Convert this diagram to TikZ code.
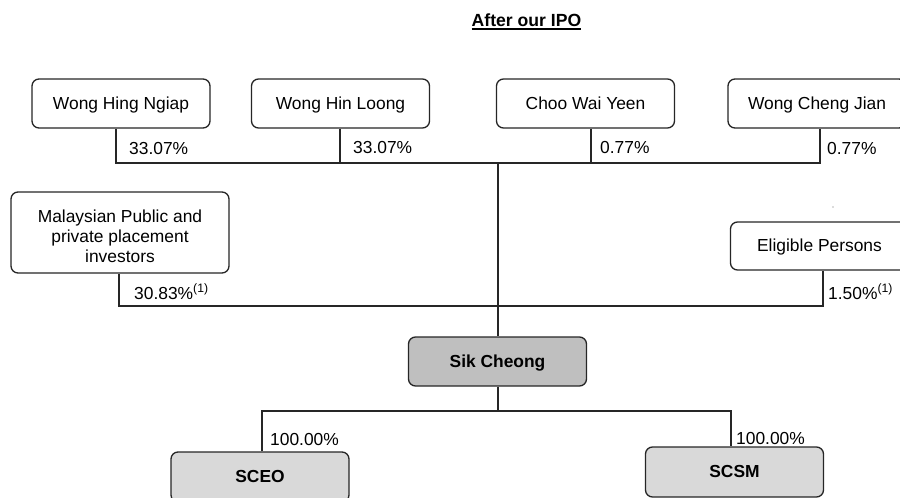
\documentclass[tikz,border=0pt]{standalone}
\usepackage{fontspec}
\setmainfont{Liberation Sans}
\usetikzlibrary{calc}
\begin{document}
\begin{tikzpicture}[x=1pt,y=-1pt,
  txt/.style={font=\fontsize{17.4}{20}\selectfont},
  box/.style={txt, draw=black!85, line width=1.3pt, rounded corners=7pt, fill=white,
    align=center, inner sep=0pt, minimum width=178pt, minimum height=49pt,
    text height=12.6pt, text depth=1pt},
  darkbox/.style={box, fill=black!25, font=\fontsize{17.4}{20}\selectfont\bfseries},
  lightbox/.style={box, fill=black!15, font=\fontsize{17.4}{20}\selectfont\bfseries},
  pct/.style={txt, anchor=base west, inner sep=0pt},
  link/.style={draw=black!85, line width=1.3pt}
]
\useasboundingbox (0,0) rectangle (900,498);

% title
\node[font=\fontsize{17.6}{20}\selectfont\bfseries, anchor=base, inner sep=0pt] (title) at (526.5,26) {After our IPO};
\draw[line width=1.8pt] ($(title.base west)+(0,2.6)$) -- ($(title.base east)+(0,2.6)$);

% shareholders
\node[box] (whn) at (121,103.5) {Wong Hing Ngiap};
\node[box] (whl) at (340.5,103.5) {Wong Hin Loong};
\node[box] (cwy) at (585.5,103.5) {Choo Wai Yeen};
\node[box] (wcj) at (817,103.5) {Wong Cheng Jian};
\node[box, minimum width=218pt, minimum height=81pt, text height=59pt, text depth=0pt] (mpp) at (120,232.5) {Malaysian Public and\\private placement\\investors};
\node[box, minimum height=48pt] (ep) at (819.5,246) {Eligible Persons};

% company and subsidiaries
\node[darkbox, minimum height=49pt] (sik) at (497.5,361.5) {Sik Cheong};
\node[lightbox, minimum height=50pt] (sceo) at (260,477) {SCEO};
\node[lightbox, minimum height=50pt] (scsm) at (734.5,472) {SCSM};

% junction coordinates
\coordinate (j1) at (116,163);
\coordinate (j2) at (340,163);
\coordinate (j3) at (591,163);
\coordinate (j4) at (820,163);
\coordinate (jc) at (498,163);
\coordinate (m1) at (119,306);
\coordinate (m2) at (823,306);
\coordinate (b0) at (498,411);
\coordinate (b1) at (262,411);
\coordinate (b2) at (731,411);

% top bus
\draw[link] (j1 |- whn.south) -- (j1) -- (j4) -- (j4 |- wcj.south);
\draw[link] (j2 |- whl.south) -- (j2);
\draw[link] (j3 |- cwy.south) -- (j3);
% middle bus
\draw[link] (m1 |- mpp.south) -- (m1) -- (m2) -- (m2 |- ep.south);
% trunk to Sik Cheong
\draw[link] (jc) -- (jc |- sik.north);
% bottom bus
\draw[link] (b0 |- sik.south) -- (b0);
\draw[link] (b1 |- sceo.north) -- (b1) -- (b2) -- (b2 |- scsm.north);

% percentages
\node[pct] (p1) at (129,154) {33.07\%};
\node[pct] (p2) at (353,153) {33.07\%};
\node[pct] (p3) at (600,153) {0.77\%};
\node[pct] (p4) at (827,154) {0.77\%};
\node[pct] (p5) at (134,299) {30.83\%\textsuperscript{(1)}};
\node[pct] (p6) at (828,299) {1.50\%\textsuperscript{(1)}};
\node[pct] (p7) at (270,445) {100.00\%};
\node[pct] (p8) at (736,444) {100.00\%};

% stray dot
\fill[black!60] (833,207) circle (0.7pt);
\end{tikzpicture}
\end{document}
